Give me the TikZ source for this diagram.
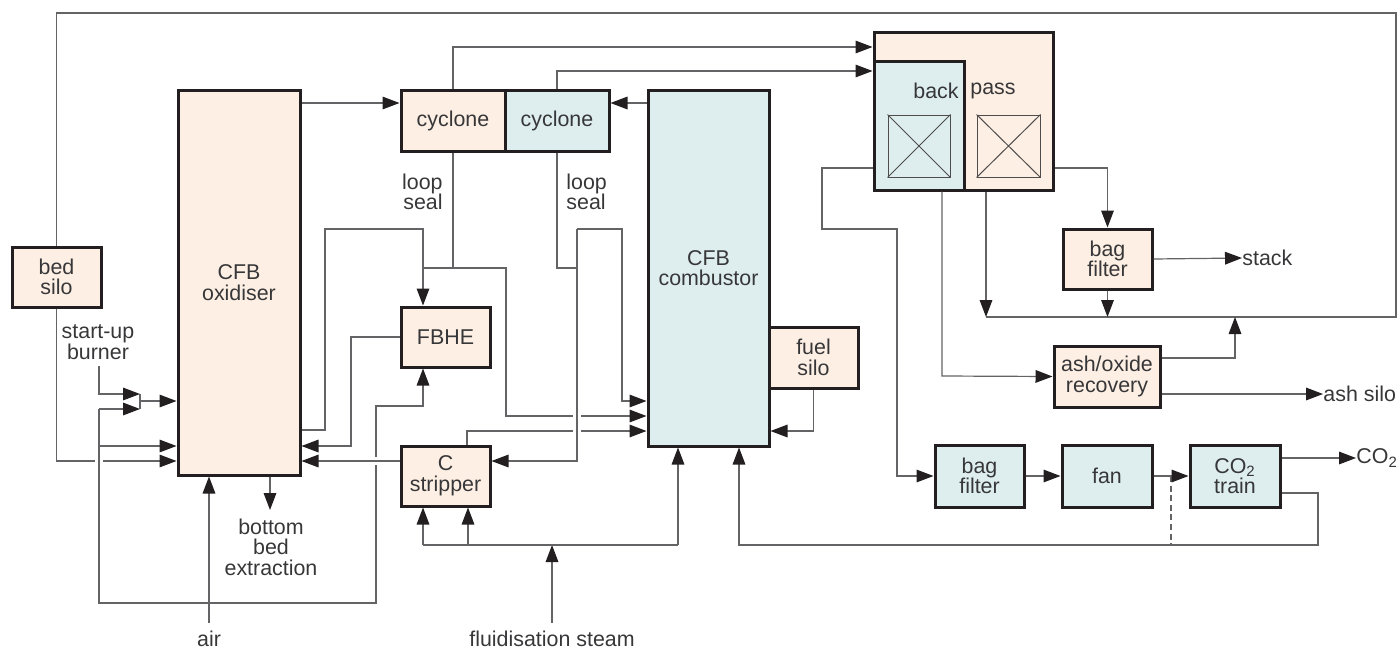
\documentclass[tikz,border=0pt]{standalone}
\usepackage{fontspec}
\setmainfont{Liberation Sans}
\usetikzlibrary{arrows.meta}
\definecolor{ofill}{RGB}{253,239,227}
\definecolor{bfill}{RGB}{222,238,238}
\definecolor{bord}{RGB}{35,31,32}
\definecolor{lncol}{RGB}{100,100,102}
\definecolor{txt}{RGB}{55,55,57}
\newcommand\dfont{\fontsize{10.7}{10.3}\selectfont}
\begin{document}
\begin{tikzpicture}[x=0.5pt,y=-0.5pt,
  box/.style={draw=bord, line width=1.5pt, inner sep=0pt, align=center, text=txt, font=\dfont},
  obox/.style={box, fill=ofill},
  bbox/.style={box, fill=bfill},
  sz/.style 2 args={minimum width=#1pt, minimum height=#2pt},
  hx/.style={draw=bord!80, line width=0.5pt, inner sep=0pt},
  ln/.style={draw=lncol, line width=0.6pt},
  arr/.style={ln, -{Triangle[length=8.5pt,width=6.3pt,color=bord]}},
  lbl/.style={text=txt, font=\dfont, inner sep=0pt},
]
\useasboundingbox (0,0) rectangle (1400,648);
% ---------- boxes ----------
\node[obox, sz={44.5}{30}] (bedsilo) at (56.5,277) {bed\\silo};
\node[obox, sz={61}{192.5}] (oxid) at (239,282.5) {CFB\\oxidiser};
\node[obox, sz={52}{30.5}] (cyc1) at (453,120.5) {cyclone};
\node[bbox, sz={52}{30.5}] (cyc2) at (557,120.5) {cyclone};
\node[bbox, sz={60.5}{178}] (comb) at (708.5,268) {CFB\\combustor};
\node[obox, sz={44.5}{30}] (fbhe) at (445.5,337) {FBHE};
\node[obox, sz={44.5}{30}] (cstrip) at (445.5,476) {C\\stripper};
\node[obox, sz={44.5}{30.5}] (fuel) at (813.5,357.5) {fuel\\silo};
\node[obox, sz={89.5}{79}] (bp) at (963.5,111) {};
\node[bbox, sz={45}{64.5}] (bpb) at (919,125.5) {};
\node[lbl, anchor=east] (back) at (959,91) {back};
\node[lbl, anchor=west] (pass) at (970,91) {pass};
\node[hx, sz={31}{31}] (hx1) at (919,146) {};
\node[hx, sz={31.5}{31}] (hx2) at (1008.5,146) {};
\draw[hx] (hx1.north west) -- (hx1.south east) (hx1.north east) -- (hx1.south west);
\draw[hx] (hx2.north west) -- (hx2.south east) (hx2.north east) -- (hx2.south west);
\node[obox, sz={44.5}{30}] (bag1) at (1107.5,259) {bag\\filter};
\node[obox, sz={53}{30.5}] (ash) at (1107,376.5) {ash/oxide\\recovery};
\node[bbox, sz={44.5}{31}] (bag2) at (979.5,476) {bag\\filter};
\node[bbox, sz={45}{31}] (fan) at (1107,476) {fan};
\node[bbox, sz={45}{31}] (co2t) at (1235,476) {CO\textsubscript{2}\\train};
% ---------- labels ----------
\node[lbl, align=center] (burner) at (98,342) {start-up\\burner};
\node[lbl, align=center] (bbe) at (271,547) {bottom\\bed\\extraction};
\node[lbl, anchor=base] (air) at (209,646) {air};
\node[lbl, anchor=base] (steam) at (552,646) {fluidisation steam};
\node[lbl, align=right, anchor=east] (ls1) at (443,192) {loop\\seal};
\node[lbl, align=left, anchor=west] (ls2) at (566,192) {loop\\seal};
\node[lbl, anchor=west] (stack) at (1242,258) {stack};
\node[lbl, anchor=west] (ashsilo) at (1323,394) {ash silo};
\node[lbl, anchor=west] (co2) at (1356,458) {CO\textsubscript{2}};
% ---------- connectors ----------
\draw[arr] (oxid.east |- 0,103) -- (cyc1.west |- 0,103);
\draw[arr] (comb.west |- 0,103) -- (cyc2.east |- 0,103);
\draw[arr] (cyc1.north) -- (453,47) -- (bp.west |- 0,47);
\draw[arr] (cyc2.north) -- (557,71) -- (bpb.west |- 0,71);
% oxidiser loop seal
\draw[ln] (cyc1.south) -- (453,268);
\draw[ln] (423,268) -- (506,268) -- (506,416) -- (573,416);
\draw[arr] (581,416) -- (comb.west |- 0,416);
\draw[arr] (oxid.east |- 0,430) -- (325,430) -- (325,229) -- (423,229) -- (fbhe.north -| 423,0);
\draw[arr] (fbhe.west) -- (351,337) -- (351,446) -- (oxid.east |- 0,446);
\draw[arr] (cstrip.west |- 0,461) -- (oxid.east |- 0,461);
% air distribution
\draw[ln] (99,409) -- (99,603) -- (376,603) -- (376,465);
\draw[arr] (376,457) -- (376,406) -- (423,406) -- (fbhe.south -| 423,0);
\draw[arr] (99,409) -- (140,409);
\draw[arr] (99,446) -- (oxid.west |- 0,446);
\draw[arr] (99,366) -- (99,394) -- (140,394);
\draw[ln] (140,394) -- (140,409);
\draw[arr] (140,401) -- (oxid.west |- 0,401);
\draw[arr] (air.north |- 0,623) -- (oxid.south -| air.north);
\draw[arr] (oxid.south -| 270,0) -- (270,510);
% bed silo
\draw[ln] (bedsilo.south) -- (bedsilo.south |- 0,461) -- (95,461);
\draw[arr] (103,461) -- (oxid.west |- 0,461);
\draw[ln] (bedsilo.north) -- (bedsilo.north |- 0,13) -- (1396,13) -- (1396,317) -- (986,317);
\draw[arr] (bp.south -| 986,0) -- (986,317);
\draw[arr] (bag1.south) -- (bag1.south |- 0,317);
\draw[arr] (ash.east |- 0,358) -- (1235,358) -- (1235,317);
% combustor loop seal
\draw[ln] (cyc2.south) -- (557,268) -- (577,268);
\draw[arr] (577,229) -- (577,461) -- (cstrip.east |- 0,461);
\draw[arr] (577,229) -- (622,229) -- (622,401) -- (comb.west |- 0,401);
\draw[ln] (cstrip.north -| 467,0) -- (467,431) -- (573,431);
\draw[arr] (581,431) -- (comb.west |- 0,431);
\draw[arr] (fuel.south) -- (fuel.south |- 0,431) -- (comb.east |- 0,431);
% fluidisation steam
\draw[arr] (steam.north |- 0,623) -- (552,545);
\draw[ln] (423,545) -- (678,545);
\draw[arr] (423,545) -- (cstrip.south -| 423,0);
\draw[arr] (468,545) -- (cstrip.south -| 468,0);
\draw[arr] (678,545) -- (comb.south -| 678,0);
% CO2 recycle
\draw[arr] (co2t.east |- 0,493) -- (1318,493) -- (1318,545) -- (739,545) -- (comb.south -| 739,0);
\draw[ln, dash pattern=on 3pt off 1.8pt] (1171,476) -- (1171,545);
% flue gas side
\draw[arr] (bpb.west |- 0,168) -- (822,168) -- (822,229) -- (897,229) -- (897,476) -- (bag2.west);
\draw[arr] (bag2.east) -- (fan.west);
\draw[arr] (fan.east) -- (co2t.west);
\draw[arr] (co2t.east |- 0,458) -- (co2.west |- 0,458);
\draw[arr] (bpb.south -| 942,0) -- (942,376) -- (ash.west);
\draw[arr] (ash.east |- 0,394) -- (ashsilo.west |- 0,394);
\draw[arr] (bp.east |- 0,168) -- (bag1.north |- 0,168) -- (bag1.north);
\draw[arr] (bag1.east) -- (stack.west);
\end{tikzpicture}
\end{document}
